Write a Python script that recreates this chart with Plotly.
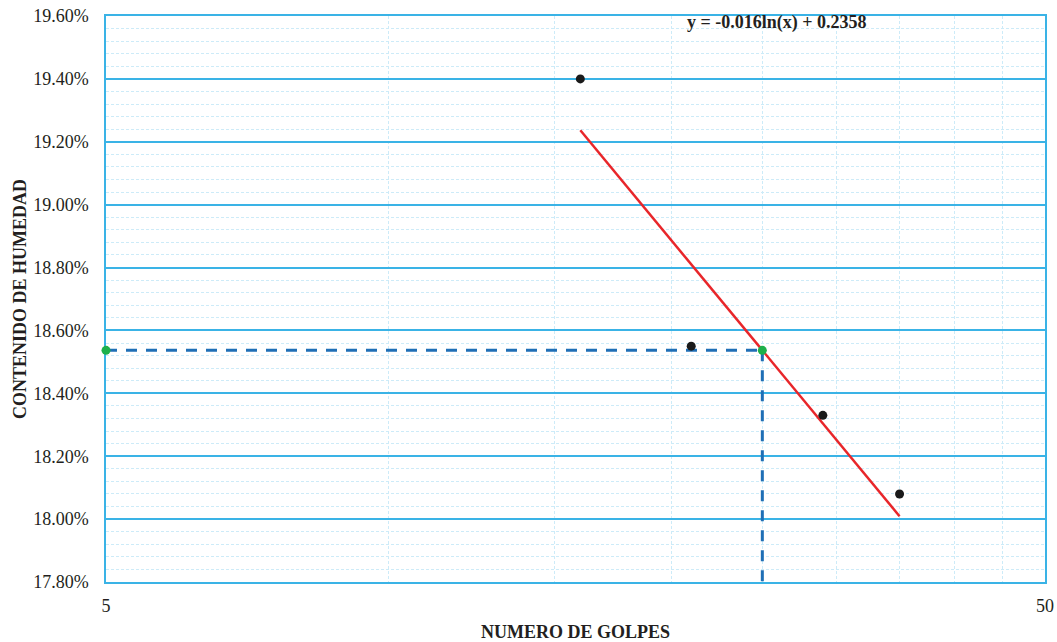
import numpy as np
import plotly.graph_objects as go

# Data
golpes = [16, 21, 29, 35]
humedad = [19.40, 18.55, 18.33, 18.08]  # percent
x_ll = 25  # golpes for liquid limit
x_min, x_max = 5, 50
y_ticks = [17.8, 18.0, 18.2, 18.4, 18.6, 18.8, 19.0, 19.2, 19.4, 19.6]
x_grid = [5, 10, 15, 20, 25, 30, 35, 40, 45, 50]
x_labels = ["5", "", "", "", "", "", "", "", "", "50"]
equation = "y = -0.016ln(x) + 0.2358"

# Logarithmic trend line fit
lx = np.log(golpes)
b, a = np.polyfit(lx, humedad, 1)
xt = np.linspace(min(golpes), max(golpes), 50)
yt = a + b * np.log(xt)
y_ll = a + b * np.log(x_ll)

# minor horizontal grid (every 0.04 %, excluding majors)
y_minor = [round(17.8 + 0.04 * k, 2) for k in range(46) if k % 5 != 0]

serif = "Liberation Serif, Times New Roman, serif"
grid_major = "#3AB3E6"
grid_minor = "#CDEBF8"
txt = "#231F20"

fig = go.Figure()
# dashed guide lines
fig.add_trace(go.Scatter(x=[x_min, x_ll], y=[y_ll, y_ll], mode="lines",
                         line=dict(color="#1F6FB6", width=3, dash="11px,9px"),
                         showlegend=False, hoverinfo="skip"))
fig.add_trace(go.Scatter(x=[x_ll, x_ll], y=[y_ll, 17.8], mode="lines",
                         line=dict(color="#1F6FB6", width=3, dash="11px,9px"),
                         showlegend=False, hoverinfo="skip"))
# trend line
fig.add_trace(go.Scatter(x=xt, y=yt, mode="lines",
                         line=dict(color="#E8262A", width=2.5),
                         showlegend=False))
# data points
fig.add_trace(go.Scatter(x=golpes, y=humedad, mode="markers",
                         marker=dict(color="#1A1A1A", size=9),
                         showlegend=False))
# liquid limit points
fig.add_trace(go.Scatter(x=[x_min, x_ll], y=[y_ll, y_ll], mode="markers",
                         marker=dict(color="#1DB04B", size=9),
                         showlegend=False, cliponaxis=False))

fig.add_annotation(text="<b>" + equation + "</b>", x=0.715, y=0.988,
                   xref="paper", yref="paper", xanchor="center", yanchor="middle",
                   showarrow=False, font=dict(family=serif, size=18, color=txt))

eps = 1e-6
fig.update_xaxes(type="log", range=[np.log10(x_min) - eps, np.log10(x_max) + eps],
                 tickvals=x_grid, ticktext=x_labels, automargin=False,
                 ticklabeloverflow="allow",
                 showgrid=True, gridcolor=grid_minor, griddash="3px,2px", gridwidth=1,
                 showline=True, linecolor=grid_major, linewidth=1.5, mirror=True,
                 ticks="outside", ticklen=7, tickcolor="rgba(0,0,0,0)",
                 zeroline=False, layer="below traces",
                 tickfont=dict(family=serif, size=18, color=txt),
                 title=dict(text="<b>NUMERO DE GOLPES</b>", standoff=12,
                            font=dict(family=serif, size=18, color=txt)))
fig.update_yaxes(range=[17.8, 19.6], tickvals=y_ticks,
                 ticktext=[f"{v:.2f}%" for v in y_ticks], automargin=False,
                 ticklabeloverflow="allow",
                 showgrid=True, gridcolor=grid_major, gridwidth=1.5,
                 minor=dict(tickvals=y_minor, showgrid=True, gridcolor=grid_minor,
                            griddash="3px,2px", gridwidth=1),
                 showline=True, linecolor=grid_major, linewidth=1.5, mirror=True,
                 ticks="outside", ticklen=12, tickcolor="rgba(0,0,0,0)",
                 zeroline=False, layer="below traces",
                 tickfont=dict(family=serif, size=18, color=txt),
                 title=dict(text="<b>CONTENIDO DE HUMEDAD</b>", standoff=2,
                            font=dict(family=serif, size=18, color=txt)))

fig.update_layout(width=1057, height=642,
                  margin=dict(l=106, r=12, t=16, b=60),
                  plot_bgcolor="white", paper_bgcolor="white")

fig.write_html("out.html", config={"displayModeBar": False},
               post_script="document.body.style.margin='0';"
                           "document.body.style.overflow='hidden';")
